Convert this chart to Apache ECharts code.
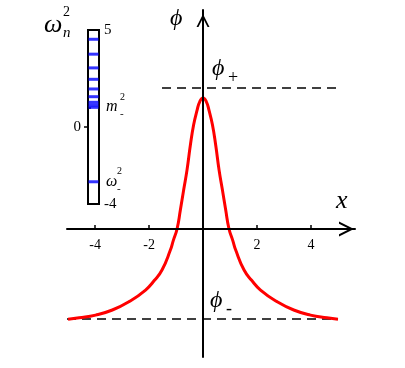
<!DOCTYPE html>
<html>
<head>
<meta charset="utf-8">
<script src="https://cdn.jsdelivr.net/npm/echarts@6/dist/echarts.min.js"></script>
<style>
  html, body { margin: 0; padding: 0; background: #fff; }
  #chart { width: 405px; height: 368px; }
</style>
</head>
<body>
<div id="chart"></div>
<script>
// kink profile phi(x) (right half, mirrored below)
var halfX = [0, 0.12, 0.22, 0.35, 0.47, 0.593, 0.719, 0.84, 0.963, 1.1, 1.21, 1.52, 1.8, 2.13, 2.74, 3.36, 3.98, 4.59, 5.0];
var halfY = [4.85, 4.72, 4.4, 3.85, 3.1, 2.19, 1.44, 0.70, 0.0, -0.42, -0.78, -1.52, -1.90, -2.26, -2.69, -3.0, -3.19, -3.29, -3.34];
// vacuum levels
var phiPlus = 5.22, phiPlusX = [-1.52, 5.0];
var phiMinus = -3.33, phiMinusX = [-5.04, 5.0];
var xTicks = [-4, -2, 2, 4];

// spectrum omega_n^2 in the inset
var spectrum = [4.52, 3.75, 3.04, 2.45, 1.95, 1.55, 1.26, 1.12, 1.0, -2.85];
var mMinus2 = 1.0;
var specRightTicks = [5, mMinus2, -4];
var specRightLabels = [5, -4];

var myChart = echarts.init(document.getElementById('chart'));

var serif = '"Liberation Serif", "DejaVu Serif", serif';
var chevron = 'path://M0,10L5,0L10,10L8.5,10L5,3L1.5,10Z';

function toPairs(xs, ys) {
    var out = [];
    for (var i = 0; i < xs.length; i++) out.push([xs[i], ys[i]]);
    return out;
}

// the profile is even in x
var kink = [];
for (var i = halfX.length - 1; i > 0; i--) kink.push([-halfX[i], halfY[i]]);
kink = kink.concat(toPairs(halfX, halfY));

function mathText(x, y, str, size, italic) {
    return {
        type: 'text', x: x, y: y, z: 10,
        style: {
            text: str, fill: '#000',
            font: (italic ? 'italic ' : '') + size + 'px ' + serif,
            textVerticalAlign: 'middle'
        }
    };
}

var option = {
    animation: false,
    grid: [
        { left: 67, right: 50, top: 10, bottom: 11, outerBoundsMode: 'none' },
        { left: 88, top: 30, width: 11, height: 174, show: true, outerBoundsMode: 'none',
          borderColor: '#000', borderWidth: 2, backgroundColor: 'transparent' }
    ],
    xAxis: [
        {
            // x axis sits on phi = 0 : grid bottom is 128px below it
            type: 'value', gridIndex: 0, min: -5.04, max: 5.63, z: 5,
            position: 'bottom', offset: -128,
            axisLine: { onZero: false, symbol: ['none', chevron], symbolSize: [15, 17],
                        symbolOffset: [0, -8.5], lineStyle: { color: '#000', width: 2 } },
            axisTick: { show: true, inside: true, length: 4, customValues: xTicks,
                        lineStyle: { color: '#000', width: 1.5 } },
            axisLabel: { customValues: xTicks, color: '#000', fontFamily: serif,
                         fontSize: 14, margin: 9 },
            splitLine: { show: false }
        },
        { type: 'value', gridIndex: 1, min: 0, max: 1, show: false }
    ],
    yAxis: [
        {
            type: 'value', gridIndex: 0, min: -4.74, max: 8.11, z: 5,
            position: 'left', offset: -136,
            axisLine: { onZero: false, symbol: ['none', chevron], symbolSize: [13, 21],
                        symbolOffset: [0, -10.5], lineStyle: { color: '#000', width: 2 } },
            axisTick: { show: false },
            axisLabel: { show: false },
            splitLine: { show: false }
        },
        {
            type: 'value', gridIndex: 1, min: -4, max: 5, position: 'right',
            axisLine: { show: false },
            axisTick: { show: true, length: 3, customValues: specRightTicks,
                        lineStyle: { color: '#000', width: 1.5 } },
            axisLabel: { customValues: specRightLabels, color: '#000', fontFamily: serif,
                         fontSize: 15, margin: 5 },
            splitLine: { show: false }
        },
        {
            type: 'value', gridIndex: 1, min: -4, max: 5, position: 'left',
            axisLine: { show: false },
            axisTick: { show: true, length: 4, customValues: [0],
                        lineStyle: { color: '#000', width: 1.5 } },
            axisLabel: { customValues: [0], color: '#000', fontFamily: serif,
                         fontSize: 15, margin: 7 },
            splitLine: { show: false }
        }
    ],
    series: [
        {
            type: 'line', xAxisIndex: 0, yAxisIndex: 0, silent: true,
            data: toPairs(phiPlusX, [phiPlus, phiPlus]), symbol: 'none',
            lineStyle: { color: '#000', width: 1.5, type: [9, 6] }
        },
        {
            type: 'line', xAxisIndex: 0, yAxisIndex: 0, silent: true,
            data: toPairs(phiMinusX, [phiMinus, phiMinus]), symbol: 'none',
            lineStyle: { color: '#000', width: 1.5, type: [9, 6] }
        },
        {
            type: 'line', xAxisIndex: 0, yAxisIndex: 0, silent: true,
            data: kink, symbol: 'none', smooth: 0.5,
            lineStyle: { color: '#ff0000', width: 3 }, z: 3
        },
        {
            type: 'scatter', xAxisIndex: 1, yAxisIndex: 1, silent: true,
            data: spectrum.map(function (v) { return [0.5, v]; }),
            symbol: 'rect', symbolSize: [10, 3],
            itemStyle: { color: '#0000ff' }
        }
    ],
    graphic: [
        mathText(336, 201, 'x', 26, true),
        mathText(170, 19, 'ϕ', 24, true),
        mathText(212, 69, 'ϕ', 24, true),
        mathText(228, 78, '+', 18, false),
        mathText(210, 301, 'ϕ', 24, true),
        mathText(226, 309, '-', 18, false),
        mathText(44, 25, 'ω', 26, true),
        mathText(63, 12, '2', 14, false),
        mathText(63, 33, 'n', 15, true),
        mathText(106, 107, 'm', 16, true),
        mathText(120, 97, '2', 10, false),
        mathText(120, 114, '-', 11, false),
        mathText(106, 182, 'ω', 16, true),
        mathText(117, 171, '2', 10, false),
        mathText(117, 189, '-', 11, false)
    ]
};

myChart.setOption(option);
</script>
</body>
</html>
